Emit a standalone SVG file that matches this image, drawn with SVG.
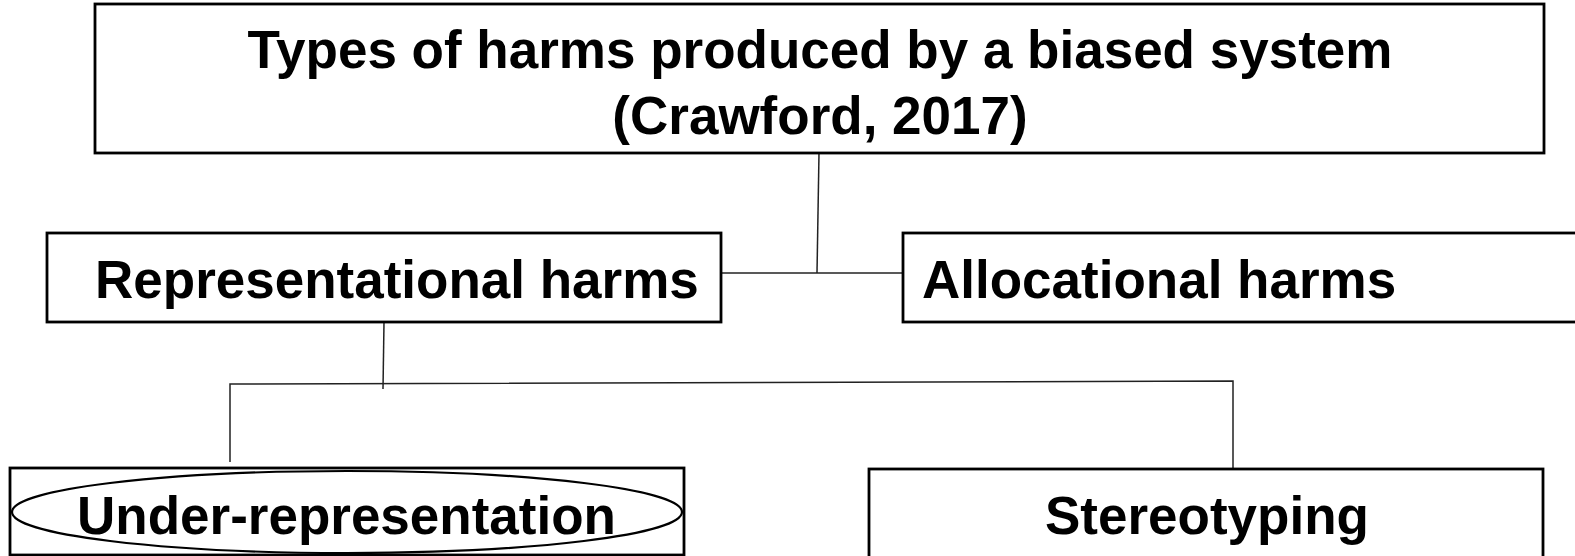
<svg xmlns="http://www.w3.org/2000/svg" width="1575" height="556" viewBox="0 0 1575 556">
<style>
.box{fill:#fff;stroke:#000;stroke-width:2.8}
.lbl{font-family:"Liberation Sans",Arial,sans-serif;font-weight:bold;font-size:53px;fill:#000}
.con{fill:none;stroke:#222;stroke-width:1.5}
</style>
<rect width="1575" height="556" fill="#fff"/>
<g id="connectors">
<polyline class="con" points="819,153 817,273"/>
<polyline class="con" points="721,273 903,273"/>
<polyline class="con" points="384,322 383,389"/>
<polyline class="con" points="230,462 230,384 1233,381 1233,469"/>
</g>
<g id="top">
<rect class="box" x="95" y="4" width="1449" height="149"/>
<text class="lbl" x="820" y="68" text-anchor="middle">Types of harms produced by a biased system</text>
<text class="lbl" x="820" y="134" text-anchor="middle">(Crawford, 2017)</text>
</g>
<g id="representational">
<rect class="box" x="47" y="233" width="674" height="89"/>
<text class="lbl" x="95" y="298">Representational harms</text>
</g>
<g id="allocational">
<rect class="box" x="903" y="233" width="700" height="89"/>
<text class="lbl" x="922" y="298">Allocational harms</text>
</g>
<g id="underrep">
<rect class="box" x="10" y="468" width="674" height="87"/>
<ellipse cx="347" cy="512" rx="335" ry="41" fill="none" stroke="#000" stroke-width="2.2"/>
<text class="lbl" x="77" y="534">Under-representation</text>
</g>
<g id="stereotyping">
<rect class="box" x="869" y="469" width="674" height="100"/>
<text class="lbl" x="1045" y="534">Stereotyping</text>
</g>
</svg>
